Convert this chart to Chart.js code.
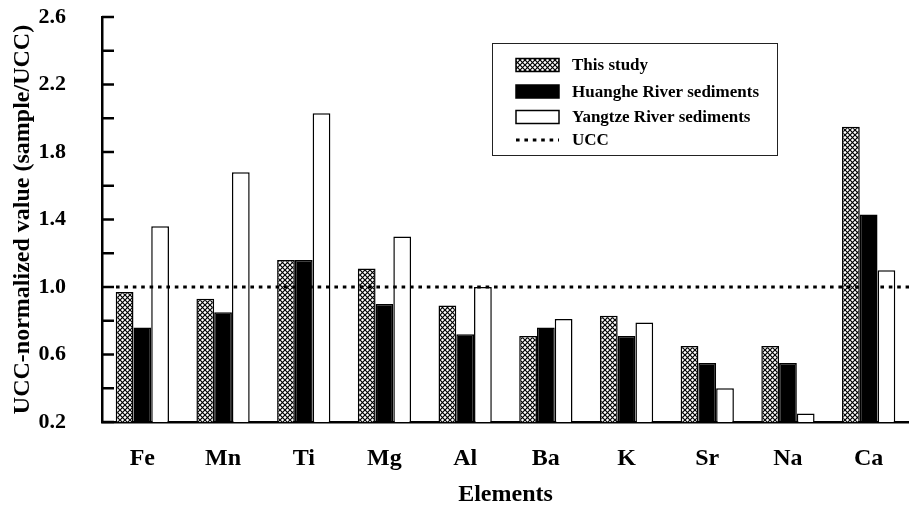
<!DOCTYPE html>
<html>
<head>
<meta charset="utf-8">
<script src="https://cdn.jsdelivr.net/npm/chart.js@4.4.1/dist/chart.umd.min.js"></script>
<style>
html,body{margin:0;padding:0;background:#fff;}
#wrap{width:909px;height:509px;position:relative;}
</style>
</head>
<body>
<div id="wrap"><canvas id="c" width="909" height="509"></canvas></div>
<script>
const categories = ['Fe','Mn','Ti','Mg','Al','Ba','K','Sr','Na','Ca'];
const thisStudy = [0.97,0.93,1.16,1.11,0.89,0.71,0.83,0.65,0.65,1.95];
const huanghe   = [0.76,0.85,1.16,0.90,0.72,0.76,0.71,0.55,0.55,1.43];
const yangtze   = [1.36,1.68,2.03,1.30,1.00,0.81,0.79,0.40,0.25,1.10];
const uccValue = 1.0;
const seriesNames = ['This study','Huanghe River sediments','Yangtze River sediments','UCC'];
const yLabelValues = [0.2,0.6,1.0,1.4,1.8,2.2,2.6];

const SERIF = '"Liberation Serif", "Times New Roman", serif';

function makeHatch(ctx){
  const t = document.createElement('canvas');
  t.width = 5; t.height = 5;
  const g = t.getContext('2d');
  g.fillStyle = '#fff'; g.fillRect(0,0,5,5);
  g.strokeStyle = '#000'; g.lineWidth = 1.2;
  g.beginPath();
  g.moveTo(-1,-1); g.lineTo(6,6);
  g.moveTo(6,-1); g.lineTo(-1,6);
  g.stroke();
  return ctx.createPattern(t,'repeat');
}

const canvas = document.getElementById('c');
const ctx = canvas.getContext('2d');
const hatch = makeHatch(ctx);

const extras = {
  id:'extras',
  afterDatasetsDraw(chart){
    const c = chart.ctx, ca = chart.chartArea, y = chart.scales.y;
    c.save();
    c.strokeStyle = '#000'; c.lineWidth = 2.5;
    y.ticks.forEach(t => {
      const py = y.getPixelForValue(t.value);
      c.beginPath(); c.moveTo(ca.left, py); c.lineTo(ca.left + 12, py); c.stroke();
    });
    const uy = y.getPixelForValue(uccValue);
    c.setLineDash([3.6,4.8]); c.lineWidth = 3.2;
    c.beginPath(); c.moveTo(ca.left + 14, uy); c.lineTo(ca.right, uy); c.stroke();
    c.setLineDash([]);
    const bx = 492, by = 43, bw = 285, bh = 112;
    c.fillStyle = '#fff'; c.fillRect(bx,by,bw,bh);
    c.strokeStyle = '#222'; c.lineWidth = 1; c.strokeRect(bx+0.5,by+0.5,bw,bh);
    const rows = [65, 91.5, 117, 140];
    const fills = [hatch, '#000', '#fff'];
    c.font = 'bold 17px ' + SERIF; c.textBaseline = 'middle'; c.textAlign = 'left';
    for (let i = 0; i < 4; i++) {
      const ry = rows[i];
      if (i < 3) {
        c.fillStyle = fills[i]; c.fillRect(516, ry - 6.5, 43, 13);
        c.strokeStyle = '#000'; c.lineWidth = 1.5; c.strokeRect(516, ry - 6.5, 43, 13);
      } else {
        c.strokeStyle = '#000'; c.lineWidth = 3.2; c.setLineDash([3.6,4.8]);
        c.beginPath(); c.moveTo(516, ry); c.lineTo(559, ry); c.stroke(); c.setLineDash([]);
      }
      c.fillStyle = '#000';
      c.fillText(seriesNames[i], 572, ry + 1);
    }
    c.restore();
  }
};

const barCommon = {borderColor:'#000', borderWidth:1.5, barPercentage:1.0, categoryPercentage:0.66, borderSkipped:'bottom'};

new Chart(ctx, {
  type:'bar',
  data:{
    labels: categories,
    datasets:[
      Object.assign({label:seriesNames[0], data:thisStudy, backgroundColor:hatch}, barCommon),
      Object.assign({label:seriesNames[1], data:huanghe, backgroundColor:'#000'}, barCommon),
      Object.assign({label:seriesNames[2], data:yangtze, backgroundColor:'#fff'}, barCommon)
    ]
  },
  options:{
    responsive:false, animation:false,
    layout:{padding:{top:17, right:-6, bottom:0, left:0}},
    plugins:{legend:{display:false}, tooltip:{enabled:false}},
    scales:{
      x:{
        offset:true,
        grid:{display:false, drawTicks:false},
        border:{display:true, color:'#000', width:2.5},
        ticks:{color:'#000', padding:22, font:{family:SERIF, size:24, weight:'bold'}},
        title:{display:true, text:'Elements', color:'#000', padding:{top:10,bottom:0}, font:{family:SERIF, size:24, weight:'bold'}},
        afterFit(s){ s.height = 87; }
      },
      y:{
        min:0.2, max:2.6,
        grid:{display:false, drawTicks:false},
        border:{display:true, color:'#000', width:2.5},
        ticks:{
          stepSize:0.2, color:'#000', padding:36, autoSkip:false,
          font:{family:SERIF, size:22, weight:'bold'},
          callback(v){
            const r = Math.round(v*10)/10;
            return yLabelValues.some(l => Math.abs(l - r) < 1e-6) ? r.toFixed(1) : '';
          }
        },
        title:{display:true, text:'UCC-normalized value (sample/UCC)', color:'#000', padding:{top:8,bottom:0}, font:{family:SERIF, size:24, weight:'bold'}},
        afterFit(s){ s.width = 102; s.paddingTop = 5; s.paddingBottom = 5; }
      }
    }
  },
  plugins:[extras]
});
</script>
</body>
</html>
